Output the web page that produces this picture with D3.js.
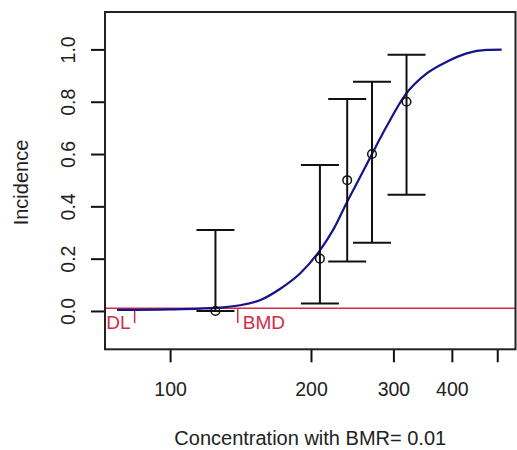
<!DOCTYPE html>
<html>
<head>
<meta charset="utf-8">
<script src="https://cdn.jsdelivr.net/npm/d3@7"></script>
<style>
  body { margin: 0; background: #fff; }
  text { font-family: "Liberation Sans", Arial, sans-serif; }
</style>
</head>
<body>
<svg id="chart" width="517" height="450"></svg>
<script>
// observed dose groups
var conc = [125, 209, 239, 270, 320];
var incidence = [0, 0.2, 0.5, 0.6, 0.8];
var lowerCI = [0, 0.029, 0.189, 0.261, 0.444];
var upperCI = [0.31, 0.558, 0.81, 0.876, 0.98];

// fitted curve
var curveConc = [77, 100, 116, 130, 141, 156, 172, 190, 209, 223, 239, 255, 270, 290, 318, 354, 390, 430, 475, 511];
var curveInc = [0.004, 0.006, 0.009, 0.014, 0.022, 0.042, 0.085, 0.145, 0.232, 0.31, 0.418, 0.514, 0.6, 0.705, 0.826, 0.909, 0.953, 0.985, 0.998, 0.999];

var xTicks = [100, 200, 300, 400, 500];
var xTickLabels = ["100", "200", "300", "400", ""];
var yTicks = [0, 0.2, 0.4, 0.6, 0.8, 1.0];
var yTickLabels = ["0.0", "0.2", "0.4", "0.6", "0.8", "1.0"];

var bmr = 0.01;
var dl = 84;
var bmd = 139.5;
var markDrop = -0.046;

var margin = {top: 12, right: 1.5, bottom: 100.7, left: 105};
var width = 517 - margin.left - margin.right;
var height = 450 - margin.top - margin.bottom;

var svg = d3.select("#chart").append("g")
  .attr("transform", "translate(" + margin.left + "," + margin.top + ")");

var x = d3.scaleLog().domain([72.6, 547]).range([0, width]);
var y = d3.scaleLinear().domain([-0.1465, 1.143]).range([height, 0]);

var red = "#d42a45";

// BMR line
svg.append("line")
  .attr("x1", 0).attr("x2", width)
  .attr("y1", y(bmr)).attr("y2", y(bmr))
  .style("stroke", red).style("stroke-width", 1.5);

// DL and BMD marks
[dl, bmd].forEach(function (v) {
  svg.append("line")
    .attr("x1", x(v)).attr("x2", x(v))
    .attr("y1", y(bmr)).attr("y2", y(markDrop))
    .style("stroke", red).style("stroke-width", 1.5);
});
svg.append("text").attr("x", x(dl) - 4).attr("y", y(markDrop) + 6)
  .attr("text-anchor", "end").style("font-size", "19px").style("fill", red).text("DL");
svg.append("text").attr("x", x(bmd) + 5).attr("y", y(markDrop) + 6)
  .attr("text-anchor", "start").style("font-size", "19px").style("fill", red).text("BMD");

// fitted curve
var pts = curveConc.map(function (c, i) { return [c, curveInc[i]]; });
var line = d3.line()
  .x(function (d) { return x(d[0]); })
  .y(function (d) { return y(d[1]); })
  .curve(d3.curveMonotoneX);
svg.append("path")
  .datum(pts)
  .attr("d", line)
  .style("fill", "none")
  .style("stroke", "#14148a")
  .style("stroke-width", 2.2);

// error bars
var capW = 19;
conc.forEach(function (c, i) {
  var g = svg.append("g").style("stroke", "#111").style("stroke-width", 2);
  g.append("line").attr("x1", x(c)).attr("x2", x(c)).attr("y1", y(lowerCI[i])).attr("y2", y(upperCI[i]));
  g.append("line").attr("x1", x(c) - capW).attr("x2", x(c) + capW).attr("y1", y(lowerCI[i])).attr("y2", y(lowerCI[i]));
  g.append("line").attr("x1", x(c) - capW).attr("x2", x(c) + capW).attr("y1", y(upperCI[i])).attr("y2", y(upperCI[i]));
});

svg.selectAll("circle.obs")
  .data(conc)
  .enter()
  .append("circle")
  .attr("class", "obs")
  .attr("cx", function (d) { return x(d); })
  .attr("cy", function (d, i) { return y(incidence[i]); })
  .attr("r", 4.3)
  .style("fill", "none")
  .style("stroke", "#111")
  .style("stroke-width", 1.5);

// axes
var xAxis = svg.append("g")
  .attr("transform", "translate(0," + height + ")")
  .call(d3.axisBottom(x).tickValues(xTicks).tickSize(13)
    .tickFormat(function (d, i) { return xTickLabels[i]; }));
xAxis.select(".domain").remove();
xAxis.selectAll("line").style("stroke", "#111").style("stroke-width", 2);
xAxis.selectAll("text")
  .attr("y", 46.5).attr("dy", 0)
  .style("font-size", "19.5px").style("fill", "#222");

var yAxis = svg.append("g")
  .call(d3.axisLeft(y).tickValues(yTicks).tickSize(14)
    .tickFormat(function (d, i) { return yTickLabels[i]; }));
yAxis.select(".domain").remove();
yAxis.selectAll("line").style("stroke", "#111").style("stroke-width", 2);
yAxis.selectAll("text")
  .attr("x", 0).attr("dy", 0)
  .attr("text-anchor", "middle")
  .attr("transform", "translate(-30,0) rotate(-90)")
  .style("font-size", "19.5px").style("fill", "#222");

// plot box
svg.append("rect")
  .attr("x", 0).attr("y", 0)
  .attr("width", width).attr("height", height)
  .style("fill", "none")
  .style("stroke", "#222")
  .style("stroke-width", 2);

// axis titles
svg.append("text")
  .attr("x", width / 2).attr("y", height + 95.5)
  .attr("text-anchor", "middle")
  .style("font-size", "20px").style("fill", "#222")
  .text("Concentration with BMR= 0.01");

svg.append("text")
  .attr("transform", "translate(" + (28 - margin.left) + "," + (182.5 - margin.top) + ") rotate(-90)")
  .attr("text-anchor", "middle")
  .style("font-size", "20px").style("fill", "#222")
  .text("Incidence");
</script>
</body>
</html>
